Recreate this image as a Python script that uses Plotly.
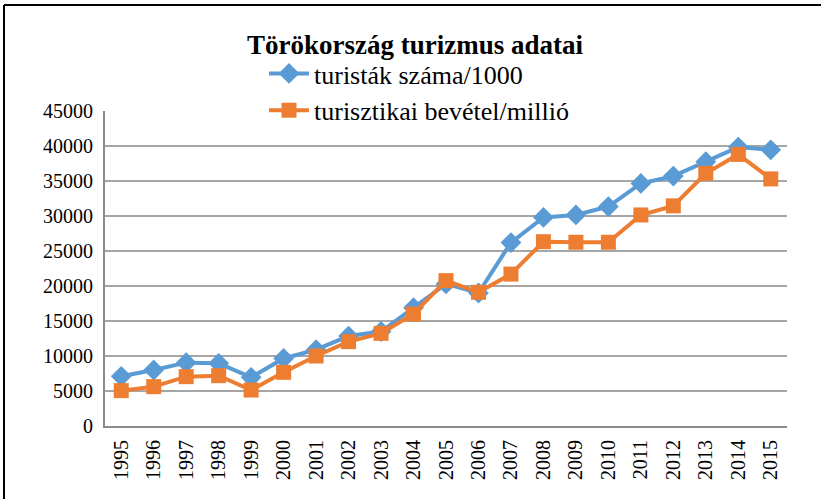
import plotly.graph_objects as go

years = [str(y) for y in range(1995, 2016)]
tourists = [7100, 8000, 9050, 8950, 6950, 9650, 10900, 12850, 13500, 16900, 20300,
            19000, 26200, 29800, 30150, 31350, 34650, 35700, 37750, 39850, 39450]
revenue = [5050, 5620, 7050, 7190, 5140, 7670, 10000, 12050, 13240, 16000, 20760,
           19100, 21700, 26330, 26250, 26250, 30150, 31450, 36100, 38800, 35300]
name_tourists = "turisták száma/1000"
name_revenue = "turisztikai bevétel/millió"
title_text = "Törökország turizmus adatai"
y_ticks = list(range(0, 45001, 5000))

BLUE = "#5B9BD5"
ORANGE = "#ED7D31"
FONT = "Liberation Serif"

fig = go.Figure()
fig.add_trace(go.Scatter(x=years, y=tourists, name=name_tourists, mode="lines+markers",
                         line=dict(color=BLUE, width=4),
                         marker=dict(symbol="diamond", size=16, color=BLUE)))
fig.add_trace(go.Scatter(x=years, y=revenue, name=name_revenue, mode="lines+markers",
                         line=dict(color=ORANGE, width=4),
                         marker=dict(symbol="square", size=15, color=ORANGE)))

W, H = 821, 499
L, R, T, B = 105, 34, 111, 73
pw, ph = W - L - R, H - T - B

fig.update_layout(
    width=W, height=H,
    margin=dict(l=L, r=R, t=T, b=B, autoexpand=False),
    paper_bgcolor="white", plot_bgcolor="white",
    font=dict(family=FONT, color="#000000", size=20),
    title=dict(text="<b>" + title_text + "</b>", x=415 / W, xanchor="center",
               y=1 - 45 / H, yanchor="middle", yref="container",
               font=dict(family=FONT, size=27, color="#000000")),
    legend=dict(x=(264 - L) / pw, xanchor="left", y=(H - B - 50) / ph, yanchor="top",
                font=dict(family=FONT, size=26, color="#000000"),
                bgcolor="rgba(0,0,0,0)", tracegroupgap=0, itemwidth=40),
    showlegend=True,
    xaxis=dict(type="category", range=[-0.5, 20.5], tickangle=-90, showgrid=False,
               showline=True, linecolor="#8C8C8C", linewidth=2, ticks="",
               tickfont=dict(family=FONT, size=20), ticklabelstandoff=4, fixedrange=True),
    yaxis=dict(range=[0, 45000], tickvals=y_ticks, ticktext=[str(v) for v in y_ticks],
               showgrid=True, gridcolor="#A6A6A6", gridwidth=1.5, zeroline=False,
               showline=True, linecolor="#8C8C8C", linewidth=2, ticks="",
               tickfont=dict(family=FONT, size=20), ticklabelstandoff=6, fixedrange=True),
    shapes=[
        dict(type="line", xref="paper", yref="paper",
             x0=(4 - L) / pw, x1=(W + 10 - L) / pw, y0=(H - B - 5) / ph, y1=(H - B - 5) / ph,
             line=dict(color="#000000", width=2)),
        dict(type="line", xref="paper", yref="paper",
             x0=(4 - L) / pw, x1=(4 - L) / pw, y0=(H - B - 5) / ph, y1=-(B + 10) / ph,
             line=dict(color="#000000", width=2)),
    ],
)

fig.write_html("out.html", config={"displayModeBar": False},
               post_script="document.body.style.margin='0';")
